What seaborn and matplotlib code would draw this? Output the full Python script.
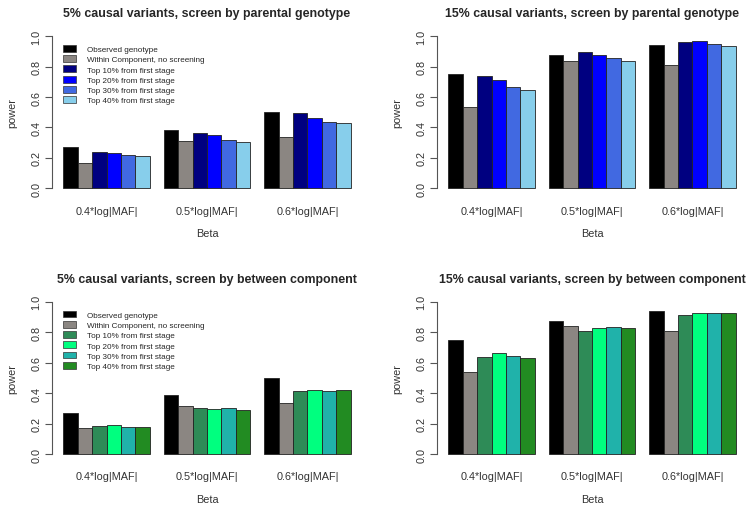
import pandas as pd
import matplotlib
matplotlib.use("Agg")
import matplotlib.pyplot as plt
from matplotlib.patches import Patch
import seaborn as sns

# Data
betas = ["0.4*log|MAF|", "0.5*log|MAF|", "0.6*log|MAF|"]
methods = ["Observed genotype", "Within Component, no screening",
           "Top 10% from first stage", "Top 20% from first stage",
           "Top 30% from first stage", "Top 40% from first stage"]

# rows = beta groups, columns = methods
power_5_parental = [[0.270, 0.167, 0.240, 0.232, 0.219, 0.215],
                    [0.386, 0.314, 0.362, 0.349, 0.316, 0.303],
                    [0.500, 0.336, 0.496, 0.463, 0.434, 0.430]]
power_15_parental = [[0.750, 0.537, 0.737, 0.714, 0.668, 0.647],
                     [0.879, 0.840, 0.895, 0.877, 0.857, 0.840],
                     [0.945, 0.810, 0.960, 0.966, 0.949, 0.936]]
power_5_between = [[0.269, 0.168, 0.184, 0.188, 0.177, 0.179],
                   [0.385, 0.313, 0.304, 0.293, 0.300, 0.287],
                   [0.501, 0.337, 0.411, 0.418, 0.416, 0.424]]
power_15_between = [[0.748, 0.536, 0.635, 0.661, 0.643, 0.632],
                    [0.877, 0.840, 0.807, 0.829, 0.834, 0.829],
                    [0.943, 0.807, 0.912, 0.930, 0.925, 0.930]]

blues = ["#000000", "#8B8682", "#000080", "#0000FF", "#4169E1", "#87CEEB"]
greens = ["#000000", "#8B8682", "#2E8B57", "#00FF7F", "#20B2AA", "#228B22"]

titles = ["5% causal variants, screen by parental genotype",
          "15% causal variants, screen by parental genotype",
          "5% causal variants, screen by between component",
          "15% causal variants, screen by between component"]


def to_long(values):
    rows = []
    for i, b in enumerate(betas):
        for j, m in enumerate(methods):
            rows.append({"Beta": b, "method": m, "power": values[i][j]})
    return pd.DataFrame(rows)


sns.set_style("ticks")
plt.rcParams["font.family"] = ["Liberation Sans", "DejaVu Sans"]

fig = plt.figure(figsize=(7.51, 5.10), dpi=100)

W, H = 751, 510
panels = [
    (power_5_parental, blues, (52, 195.4), True),
    (power_15_parental, blues, (437, 195.4), False),
    (power_5_between, greens, (52, 461.1), True),
    (power_15_between, greens, (437, 461.1), False),
]

for (values, pal, (x0, ybot), show_leg), title in zip(panels, titles):
    ax = fig.add_axes([x0 / W, 1 - ybot / H, 310 / W, 164.3 / H])
    df = to_long(values)
    sns.barplot(data=df, x="Beta", y="power", hue="method", hue_order=methods,
                palette=pal, saturation=1, width=6 / 7, gap=0, errorbar=None,
                edgecolor="#222222", linewidth=0.6, legend=False, ax=ax)
    ax.set_xlim(-3.8 / 7, 2 + 3.8 / 7)
    ax.set_ylim(-0.04, 1.04)
    ax.set_yticks([0, 0.2, 0.4, 0.6, 0.8, 1.0])
    ax.set_yticklabels(["0.0", "0.2", "0.4", "0.6", "0.8", "1.0"],
                       rotation=90, va="center")
    for s in ["top", "right", "bottom"]:
        ax.spines[s].set_visible(False)
    ax.spines["left"].set_bounds(0, 1)
    ax.spines["left"].set_color("#555555")
    ax.spines["left"].set_linewidth(0.8)
    ax.tick_params(axis="y", length=4.8, width=0.8, color="#555555",
                   labelsize=7.8, pad=3, labelcolor="#333333")
    ax.tick_params(axis="x", length=0, labelsize=7.8, pad=8,
                   labelcolor="#333333")
    ax.set_xlabel("Beta", fontsize=7.8, labelpad=9, color="#333333")
    ax.set_ylabel("power", fontsize=7.8, labelpad=10, color="#333333")
    ax.set_title(title, fontsize=8.9, fontweight="bold", pad=10)

    if show_leg:
        handles = [Patch(facecolor=c, edgecolor="#333333", linewidth=0.5)
                   for c in pal]
        ax.legend(handles, methods, loc="upper left",
                  bbox_to_anchor=(0.035, 0.91), frameon=False,
                  fontsize=5.9, handlelength=1.6, handleheight=0.9,
                  handletextpad=1.4, labelspacing=0.25, borderpad=0,
                  borderaxespad=0)

fig.savefig("out.png", dpi=100)
